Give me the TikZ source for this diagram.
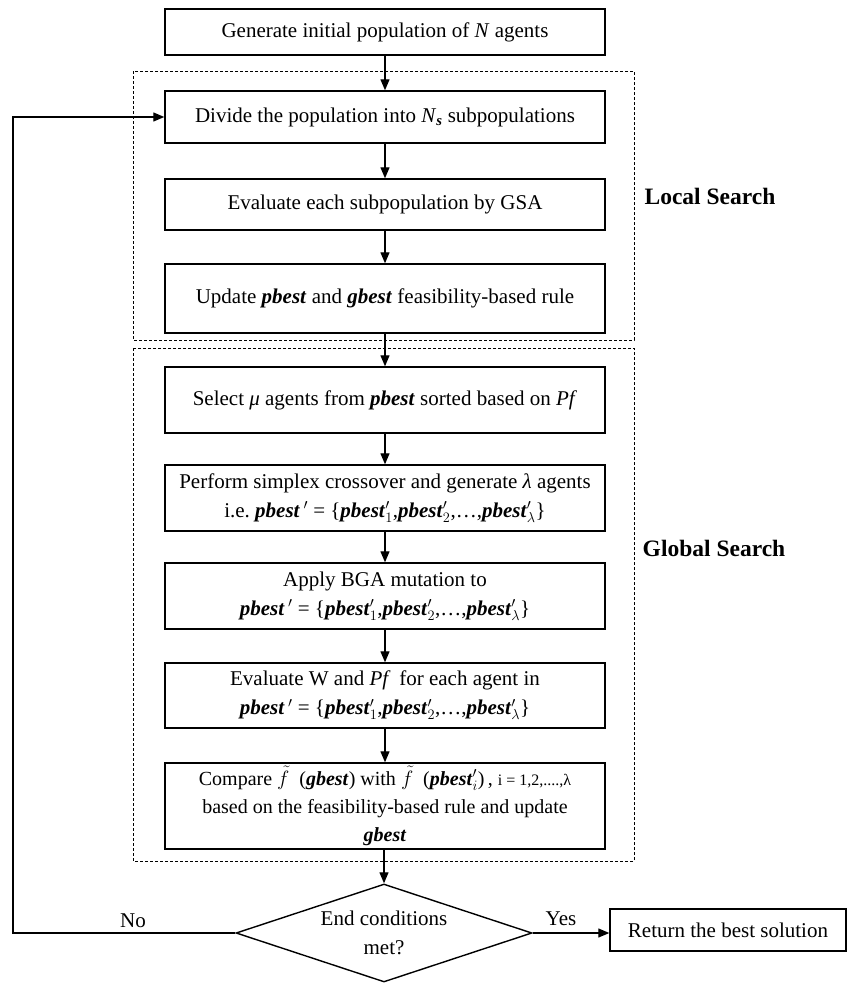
\documentclass[tikz,border=0pt]{standalone}
\usepackage{fontspec}
\setmainfont{Liberation Serif}
\usetikzlibrary{arrows.meta,shapes.geometric}
\newcommand{\pbst}{\textbf{\textit{pbest}}}
\newcommand{\gbst}{\textbf{\textit{gbest}}}
\newcommand{\pset}{\pbst\,$'$ = \{\pbst$'_1$,\pbst$'_2$,\ldots,\pbst$'_\lambda$\}}
\begin{document}
\begin{tikzpicture}[x=1pt,y=-1pt,
  every node/.style={font=\fontsize{21}{29}\selectfont},
  box/.style={draw,line width=1.4pt,minimum width=440pt,align=center,inner sep=2pt},
  dec/.style={draw,line width=1.4pt,diamond,aspect=3,minimum width=296pt,minimum height=98pt,inner sep=0pt,align=center},
  grp/.style={draw,line width=0.9pt,dash pattern=on 3pt off 2pt},
  lbl/.style={font=\fontsize{23.5}{28}\selectfont\bfseries},
  arr/.style={line width=1.2pt,-{Triangle[length=11pt,width=9pt]}}]
\useasboundingbox (0,0) rectangle (849,983);
% groups
\draw[grp] (133,71) rectangle (634,340);
\draw[grp] (133,348) rectangle (634,861);
% nodes
\node[box,minimum height=46pt] (gen) at (385,32) {Generate initial population of \textit{N} agents};
\node[box,minimum height=52pt] (div) at (385,117) {Divide the population into \textit{N}\textsubscript{\textbf{\textit{s}}} subpopulations};
\node[box,minimum height=51pt] (evl) at (385,204.5) {Evaluate each subpopulation by GSA};
\node[box,minimum height=69pt] (upd) at (385,298.5) {Update \pbst{} and \gbst{} feasibility-based rule};
\node[box,minimum height=66pt] (sel) at (385,400) {Select \textit{μ} agents from \pbst{} sorted based on \textit{Pf}};
\node[box,minimum height=66pt] (per) at (385,498) {Perform simplex crossover and generate \textit{λ} agents\\i.e.\ \pset};
\node[box,minimum height=66pt] (app) at (385,596) {Apply BGA mutation to\\\pset};
\node[box,minimum height=65pt] (evw) at (385,695.5) {Evaluate W and \textit{Pf}\, for each agent in\\\pset};
\node[box,minimum height=86pt,font=\fontsize{20}{28}\selectfont] (cmp) at (385,806) {Compare $\tilde{f}$\enspace(\gbst) with $\tilde{f}$\enspace(\pbst$'_i$)\,, {\fontsize{16}{18}\selectfont i = 1,2,....,λ}\\based on the feasibility-based rule and update\\\gbst};
\node[dec] (dia) at (384,933) {End conditions\\met?};
\node[box,minimum width=236pt,minimum height=42pt] (ret) at (728,930) {Return the best solution};
\coordinate (lp) at (13,117);
% labels
\node[lbl] (ls) at (710,196) {Local Search};
\node[lbl] (gs) at (714,548) {Global Search};
\node (no) at (133,921) {No};
\node (yes) at (561,919) {Yes};
% connectors
\draw[arr] (gen) -- (div);
\draw[arr] (div) -- (evl);
\draw[arr] (evl) -- (upd);
\draw[arr] (upd) -- (sel);
\draw[arr] (sel) -- (per);
\draw[arr] (per) -- (app);
\draw[arr] (app) -- (evw);
\draw[arr] (evw) -- (cmp);
\draw[arr] (cmp.south -| dia.north) -- (dia.north);
\draw[arr] (dia.east) -- (dia.east -| ret.west);
\draw[arr] (dia.west) -- (dia.west -| lp) -- (lp) -- (div.west);
\end{tikzpicture}
\end{document}
